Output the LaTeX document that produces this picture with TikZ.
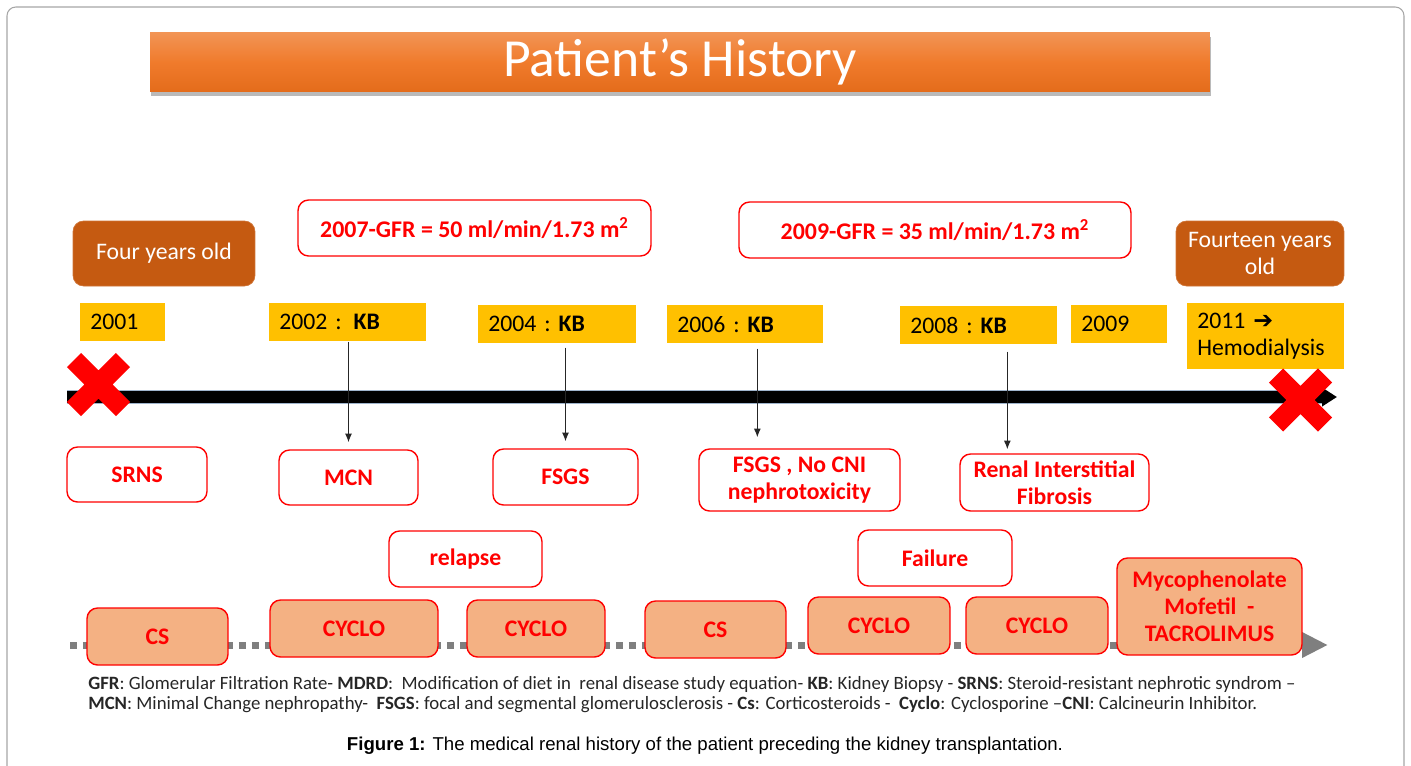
\documentclass[tikz,border=0pt]{standalone}
\usepackage{fontspec}
\setmainfont{Carlito}
\newfontfamily\capfont{Liberation Sans}
\newfontfamily\symfont{DejaVu Sans}
\usetikzlibrary{arrows.meta,positioning,calc,shadows}
\definecolor{TitleTop}{HTML}{F29455}
\definecolor{TitleMid}{HTML}{F07B2C}
\definecolor{TitleBot}{HTML}{E46C1B}
\definecolor{Brown}{HTML}{C55A11}
\definecolor{Gold}{HTML}{FFC000}
\definecolor{Alert}{HTML}{FF0000}
\definecolor{Peach}{HTML}{F4B183}
\definecolor{Frame}{HTML}{A6A6A6}
\definecolor{Dots}{HTML}{7F7F7F}
\definecolor{Glow}{HTML}{9FB4CC}
\definecolor{Ink}{HTML}{262626}
\tikzset{
 titlebar/.style={top color=TitleTop, bottom color=TitleBot, middle color=TitleMid, text=white, minimum width=21.2cm, minimum height=1.18cm, font=\fontsize{30.5}{33}\selectfont, drop shadow={shadow xshift=0.5pt, shadow yshift=-2.5pt, opacity=0.45, fill=black!60}},
 agebox/.style={draw=Brown!85, fill=Brown, rounded corners=6pt, text=white, align=center, inner sep=2pt, font=\fontsize{13.5}{15.5}\selectfont},
 gfrbox/.style={draw=Alert, line width=0.8pt, fill=white, rounded corners=6pt, text=Alert, align=center, inner sep=2pt, font=\bfseries\fontsize{13.6}{15.5}\selectfont},
 findbox/.style={gfrbox, font=\bfseries\fontsize{13.5}{15.5}\selectfont},
 drugbox/.style={findbox, fill=Peach},
 yearbox/.style={fill=Gold, anchor=north west, align=left, inner xsep=0.2cm, inner ysep=0pt, font=\fontsize{13.5}{15.5}\selectfont},
 kbarrow/.style={-{Latex[length=5pt,width=4pt]}, draw=black!85, line width=0.6pt},
 stopmark/.style={draw=Alert, line width=0.4cm},
 legend/.style={anchor=west, text=Ink, inner sep=0pt, font=\fontsize{10.7}{12}\selectfont},
 caption/.style={inner sep=0pt, font=\capfont\fontsize{10.6}{12}\selectfont}
}
\begin{document}
\begin{tikzpicture}[x=0.02cm,y=-0.02cm]
\useasboundingbox (0,0) rectangle (1411,765);
\draw[Frame, line width=0.6pt, rounded corners=5pt] (7,775) -- (7,7) -- (1404,7) -- (1404,775);

\node[titlebar] (title) at (680,62) {Patient’s History};

\node[agebox, minimum width=3.64cm, minimum height=1.3cm] (age4) at (164,253.5) {Four years old};
\node[agebox, minimum width=3.36cm, minimum height=1.3cm] (age14) at (1260,253.5) {Fourteen years\\old};
\node[gfrbox, minimum width=7.06cm, minimum height=1.12cm] (gfr07) at (474.5,228) {2007-GFR = 50 ml/min/1.73 m\textsuperscript{2}};
\node[gfrbox, minimum width=7.84cm, minimum height=1.12cm] (gfr09) at (935,230) {2009-GFR = 35 ml/min/1.73 m\textsuperscript{2}};

\node[yearbox, text width=1.3cm, minimum height=0.76cm] (y2001) at (80,303) {2001};
\node[yearbox, text width=2.74cm, minimum height=0.76cm] (kb2002) at (269,303) {2002 : \textbf{KB}};
\node[yearbox, text width=2.76cm, minimum height=0.76cm] (kb2004) at (478,305) {2004 :\ \textbf{KB}};
\node[yearbox, text width=2.72cm, minimum height=0.76cm] (kb2006) at (667,305) {2006 :\ \textbf{KB}};
\node[yearbox, text width=2.74cm, minimum height=0.76cm] (kb2008) at (900,306) {2008 :\ \textbf{KB}};
\node[yearbox, text width=1.52cm, minimum height=0.76cm] (y2009) at (1071,305) {2009};
\node[yearbox, text width=2.74cm, minimum height=1.32cm] (y2011) at (1187,303) {2011 {\symfont\bfseries ➔}\\Hemodialysis};

\coordinate (tlstart) at (67,397);
\coordinate (tlend) at (1337,397);
\draw[Glow, line width=0.27cm, shorten >=0.3cm] (tlstart) -- (tlend);
\draw[black, line width=0.24cm, -{Triangle[length=0.3cm,width=0.36cm]}] (tlstart) -- (tlend);
\coordinate (xstart) at (98.5,384.5);
\coordinate (xend) at (1300.5,400);
\foreach \c in {xstart,xend}
  \draw[stopmark] ($(\c)+(-24.5,-24.5)$) -- ($(\c)+(24.5,24.5)$) ($(\c)+(-24.5,24.5)$) -- ($(\c)+(24.5,-24.5)$);

\node[findbox, minimum width=2.8cm, minimum height=1.1cm] (srns) at (137,474.5) {SRNS};
\node[findbox, minimum width=2.78cm, minimum height=1.1cm] (mcn) at (348.5,477.5) {MCN};
\node[findbox, minimum width=2.9cm, minimum height=1.12cm] (fsgsa) at (565.5,477) {FSGS};
\node[findbox, minimum width=4.02cm, minimum height=1.24cm] (fsgsb) at (799.5,480) {FSGS , No CNI\\nephrotoxicity};
\node[findbox, minimum width=3.78cm, minimum height=1.14cm] (fibrosis) at (1054.5,482.5) {Renal Interstitial\\Fibrosis};
\node[findbox, minimum width=3.06cm, minimum height=1.12cm] (relapse) at (465.5,559) {relapse};
\node[findbox, minimum width=3.08cm, minimum height=1.12cm] (failure) at (935,558) {Failure};

\draw[kbarrow, shorten >=0.14cm] (kb2002.south -| mcn.north) -- (mcn.north);
\draw[kbarrow, shorten <=0.08cm, shorten >=0.14cm] (kb2004.south -| fsgsa.north) -- (fsgsa.north);
\draw[kbarrow, shorten <=0.1cm, shorten >=0.22cm] ([xshift=0.24cm]kb2006.south) -- ([xshift=0.24cm]kb2006.south |- fsgsb.north);
\draw[kbarrow, shorten <=0.14cm, shorten >=0.08cm] ([xshift=0.57cm]kb2008.south) -- ([xshift=0.57cm]kb2008.south |- fibrosis.north);

\coordinate (rxstart) at (70,645);
\coordinate (rxend) at (1328,645);
\draw[Dots, line width=0.14cm, dash pattern=on 0.14cm off 0.12cm, -{Triangle[length=0.52cm,width=0.48cm]}] (rxstart) -- (rxend);

\node[drugbox, minimum width=2.82cm, minimum height=1.14cm] (cs1) at (157.5,636.5) {CS};
\node[drugbox, minimum width=3.36cm, minimum height=1.14cm] (cyclo1) at (354,628.5) {CYCLO};
\node[drugbox, minimum width=2.76cm, minimum height=1.14cm] (cyclo2) at (536,628.5) {CYCLO};
\node[drugbox, minimum width=2.82cm, minimum height=1.14cm] (cs2) at (715.5,629.5) {CS};
\node[drugbox, minimum width=2.84cm, minimum height=1.14cm] (cyclo3) at (879,625.5) {CYCLO};
\node[drugbox, minimum width=2.84cm, minimum height=1.14cm] (cyclo4) at (1037,625.5) {CYCLO};
\node[drugbox, minimum width=3.7cm, minimum height=1.94cm] (mmf) at (1209.5,606.5) {Mycophenolate\\Mofetil\ \ -\\TACROLIMUS};

\node[legend] (legend1) at (88,684) {\textbf{GFR}: Glomerular Filtration Rate- \textbf{MDRD}:\ \ Modification of diet in\ \ renal disease study equation- \textbf{KB}: Kidney Biopsy - \textbf{SRNS}: Steroid-resistant nephrotic syndrom –};
\node[legend] (legend2) at (88,705) {\textbf{MCN}: Minimal Change nephropathy-\ \ \textbf{FSGS}: focal and segmental glomerulosclerosis - \textbf{Cs}: Corticosteroids -\ \ \textbf{Cyclo}: Cyclosporine –\textbf{CNI}: Calcineurin Inhibitor.};
\node[caption] (caption) at (705,746) {\textbf{Figure 1:} The medical renal history of the patient preceding the kidney transplantation.};
\end{tikzpicture}
\end{document}
